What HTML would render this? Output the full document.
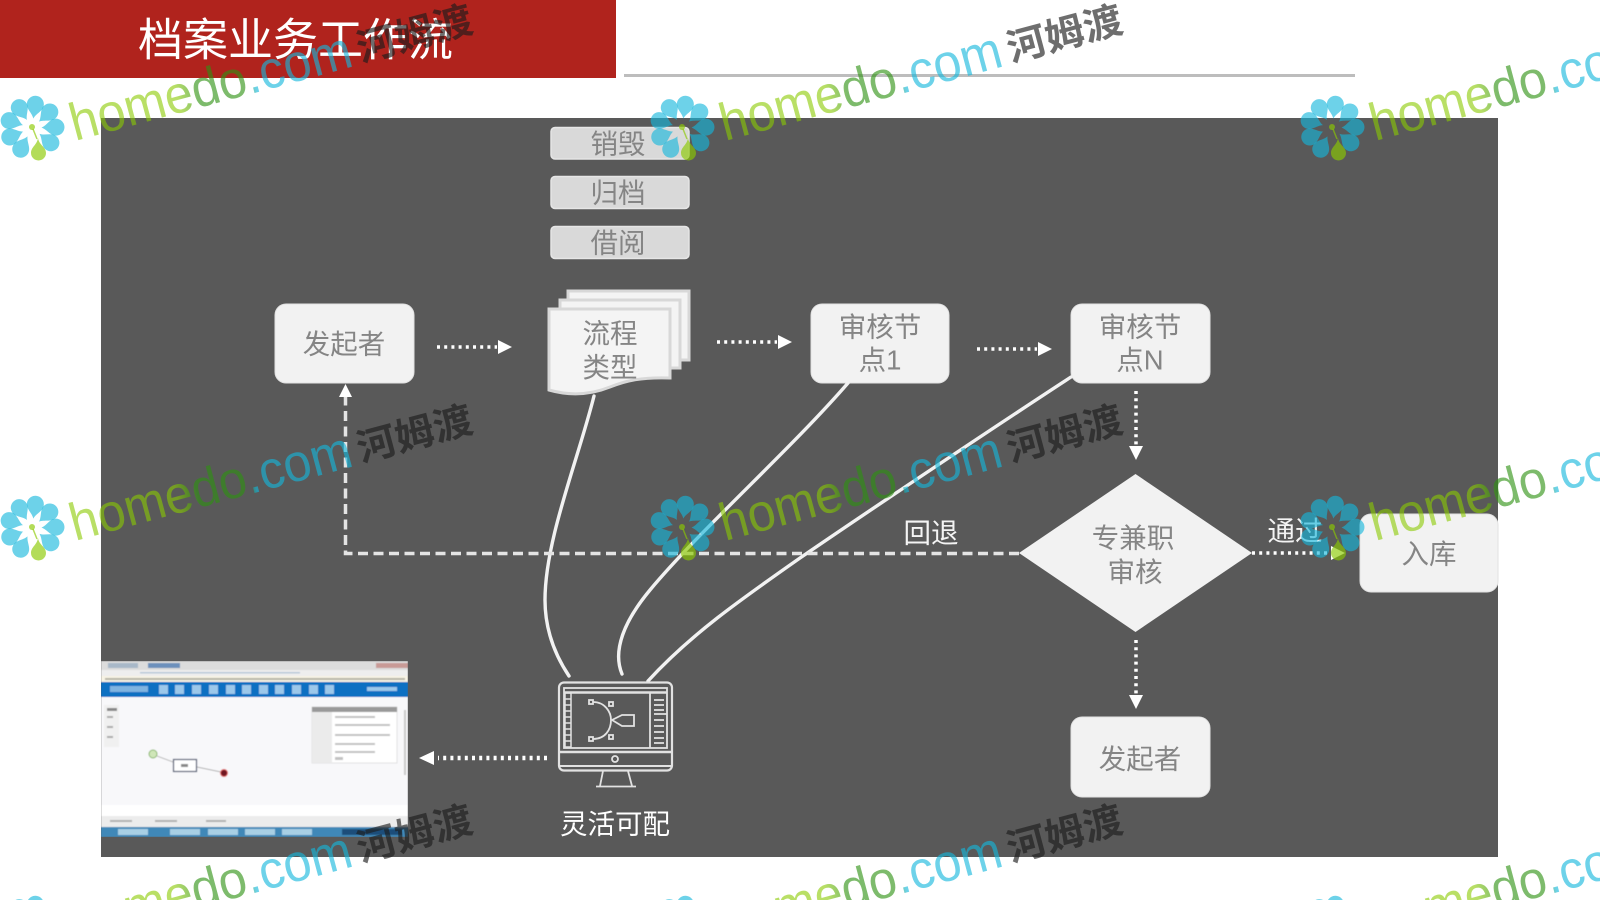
<!DOCTYPE html>
<html lang="zh">
<head>
<meta charset="utf-8">
<title>档案业务工作流</title>
<style>
html,body{margin:0;padding:0;background:#fff;width:1600px;height:900px;overflow:hidden}
#stage{position:relative;width:1600px;height:900px;overflow:hidden}
svg{display:block}
text{font-family:"Liberation Sans","Noto Sans CJK SC",sans-serif}
.n{font-size:27.500px;fill:#858585;text-anchor:middle;dominant-baseline:central}
.w{font-size:27.500px;fill:#f4f4f4;text-anchor:middle;dominant-baseline:central}
.box{fill:#f2f2f2;stroke:#e2e2e2;stroke-width:1}
.st{fill:#d9d9d9;stroke:#e6e6e6;stroke-width:1.5}
.pg{fill:#f4f4f4;stroke:#d8d8d8;stroke-width:3}
.dot{fill:none;stroke:#fff;stroke-width:3.500;stroke-dasharray:3 4.200}
.cv{fill:none;stroke:#f2f2f2;stroke-width:3.400;stroke-linecap:round}
.ic{fill:none;stroke:#e2e2e2;stroke-width:1.800}
.wm{font-size:53px;fill:url(#wg)}
.wc{font-size:38px;font-weight:bold;fill:#1c1c1c;fill-opacity:.64}
</style>
</head>
<body>
<div id="stage">
<svg width="1600" height="900" viewBox="0 0 1600 900" xmlns="http://www.w3.org/2000/svg">
<defs>
<linearGradient id="wg" x1="0" y1="0" x2="1" y2="0">
<stop offset="0" stop-color="#8aca00" stop-opacity=".6"/>
<stop offset=".38" stop-color="#8aca00" stop-opacity=".6"/>
<stop offset=".45" stop-color="#2d9111" stop-opacity=".62"/>
<stop offset=".62" stop-color="#2d9111" stop-opacity=".62"/>
<stop offset=".65" stop-color="#13b7dc" stop-opacity=".62"/>
<stop offset="1" stop-color="#13b7dc" stop-opacity=".62"/>
</linearGradient>
<path id="pt" d="M0 -9.500 C-2 -15 -8.500 -18 -8.500 -24 A8.500 8.500 0 0 1 8.500 -24 C8.500 -18 2 -15 0 -9.500Z"/>
<g id="logo">
<g fill="#13b7dc" fill-opacity=".62">
<use href="#pt" transform="rotate(8)"/>
<use href="#pt" transform="rotate(48)"/>
<use href="#pt" transform="rotate(88)"/>
<use href="#pt" transform="rotate(128)"/>
<use href="#pt" transform="rotate(-32)"/>
<use href="#pt" transform="rotate(-72)"/>
<use href="#pt" transform="rotate(-112)"/>
<use href="#pt" transform="rotate(-152)"/>
</g>
<path d="M6 10 C7 17 14 19 14 25 A7.500 7.500 0 0 1 -1 25 C-1 19 5 17 6 10Z" fill="#8aca00" fill-opacity=".65"/>
<circle cx="0" cy="-1" r="3" fill="#8aca00" fill-opacity=".65"/>
<path d="M1 1 L5 11" stroke="#8aca00" stroke-opacity=".65" stroke-width="1.500" fill="none"/>
</g>
<filter id="bl" x="0" y="0" width="1" height="1"><feGaussianBlur stdDeviation="0.600"/></filter>
<filter id="bm" x="-5%" y="-5%" width="110%" height="110%"><feGaussianBlur stdDeviation="0.350"/></filter>
<pattern id="row3" patternUnits="userSpaceOnUse" x="0" y="0" width="1600" height="100" patternTransform="translate(0,800)">
<use href="#logo" x="32" y="128"/><text class="wm" transform="translate(75,141) rotate(-15)" textLength="290" lengthAdjust="spacingAndGlyphs">homedo.com</text><text class="wc" transform="translate(361,62) rotate(-15)" textLength="118" lengthAdjust="spacingAndGlyphs">河姆渡</text>
<use href="#logo" x="682" y="128"/><text class="wm" transform="translate(725,141) rotate(-15)" textLength="290" lengthAdjust="spacingAndGlyphs">homedo.com</text><text class="wc" transform="translate(1011,62) rotate(-15)" textLength="118" lengthAdjust="spacingAndGlyphs">河姆渡</text>
<use href="#logo" x="1332" y="128"/><text class="wm" transform="translate(1375,141) rotate(-15)" textLength="290" lengthAdjust="spacingAndGlyphs">homedo.com</text>
</pattern>
</defs>

<rect x="0" y="0" width="616" height="78" fill="#b0231d"/>
<text x="138" y="40" font-size="45" fill="#fff" dominant-baseline="central">档案业务工作流</text>
<rect x="624" y="74" width="731" height="3" fill="#bdbdbd"/>

<rect x="101" y="118" width="1397" height="739" fill="#595959"/>

<!-- stacked actions -->
<rect class="st" x="551" y="127.500" width="138" height="31.500" rx="4"/>
<rect class="st" x="551" y="176.500" width="138" height="32" rx="4"/>
<rect class="st" x="551" y="226.500" width="138" height="32" rx="4"/>
<text class="n" x="618" y="144">销毁</text>
<text class="n" x="618" y="193">归档</text>
<text class="n" x="618" y="243">借阅</text>

<!-- boxes -->
<rect class="box" x="275" y="304" width="139" height="79" rx="11"/>
<text class="n" x="344" y="344">发起者</text>
<rect class="box" x="811" y="304" width="138" height="79" rx="11"/>
<text class="n" x="880" y="327">审核节</text>
<text class="n" x="880" y="360">点1</text>
<rect class="box" x="1071" y="304" width="139" height="79" rx="11"/>
<text class="n" x="1140" y="327">审核节</text>
<text class="n" x="1140" y="360">点N</text>
<rect class="box" x="1360" y="514" width="138" height="78" rx="11"/>
<text class="n" x="1429" y="554">入库</text>
<rect class="box" x="1071" y="717" width="139" height="80" rx="11"/>
<text class="n" x="1140" y="759">发起者</text>

<!-- document stack -->
<rect class="pg" x="568" y="291" width="121" height="69"/>
<rect class="pg" x="560" y="300" width="120" height="68"/>
<path class="pg" d="M549 309 H670 V378 C640 377 625 381 610 387 C590 395 570 396 549 390 Z"/>
<text class="n" x="610" y="333.500">流程</text>
<text class="n" x="610" y="367.500">类型</text>

<!-- diamond -->
<polygon points="1135.500,474 1252,553 1135.500,632 1019,553" fill="#f2f2f2"/>
<text class="n" x="1133" y="538">专兼职</text>
<text class="n" x="1135" y="572">审核</text>

<!-- curved connectors -->
<path class="cv" d="M594 396 C578 460 545 540 545 600 C545 630 555 655 569 676"/>
<path class="cv" d="M848 383 C790 450 700 530 650 590 C625 620 612 650 622 674"/>
<path class="cv" d="M1071 377 C990 430 870 510 800 558 C740 600 690 635 648 681"/>

<!-- dotted arrows -->
<path class="dot" d="M437 347 H497"/><polygon points="498,340 512,347 498,354" fill="#fff"/>
<path class="dot" d="M717 342 H777"/><polygon points="778,335 792,342 778,349" fill="#fff"/>
<path class="dot" d="M977 349 H1037"/><polygon points="1038,342 1052,349 1038,356" fill="#fff"/>
<path class="dot" d="M1136 391 V446"/><polygon points="1129,446 1143,446 1136,460" fill="#fff"/>
<path class="dot" d="M1136 640 V695"/><polygon points="1129,695 1143,695 1136,709" fill="#fff"/>
<path class="dot" d="M1252 553 H1330"/><polygon points="1331,546 1345,553 1331,560" fill="#fff"/>
<path class="dot" style="stroke-width:4.500" d="M547 758 H438"/><polygon points="434,751 419,758 434,765" fill="#fff"/>

<!-- dashed return -->
<path d="M1019 553.500 H345.500 V397" fill="none" stroke="#e4e4e4" stroke-width="3.500" stroke-dasharray="10 5.500"/>
<polygon points="345.500,384 339,397 352,397" fill="#fff"/>
<text class="w" x="931" y="533">回退</text>
<text class="w" x="1295" y="531">通过</text>

<!-- screenshot -->
<g filter="url(#bl)">
<rect x="101" y="661" width="307" height="176" fill="#f8f8fa"/>
<rect x="101" y="661" width="307" height="9" fill="#dcdcdc"/>
<rect x="108" y="663" width="30" height="5" fill="#a8b8c8"/>
<rect x="148" y="663" width="32" height="5" fill="#6c90bc"/>
<rect x="376" y="663" width="32" height="5" fill="#c89a96"/>
<rect x="101" y="670" width="307" height="6" fill="#eeeeee"/>
<rect x="140" y="672" width="160" height="1.500" fill="#b8c8d8"/>
<rect x="101" y="676" width="307" height="6" fill="#f7f3e4"/>
<rect x="105" y="678" width="300" height="2" fill="#9a9a8e" opacity=".7"/>
<rect x="101" y="682" width="307" height="15" fill="#0b6fc2"/>
<rect x="110" y="686" width="38" height="6" fill="#7fb4e0"/>
<g fill="#9cc8ea">
<rect x="159" y="685" width="9" height="9"/><rect x="175" y="685" width="9" height="9"/><rect x="192" y="685" width="9" height="9"/><rect x="209" y="685" width="9" height="9"/><rect x="226" y="685" width="9" height="9"/><rect x="242" y="685" width="9" height="9"/><rect x="259" y="685" width="9" height="9"/><rect x="275" y="685" width="9" height="9"/><rect x="292" y="685" width="9" height="9"/><rect x="309" y="685" width="9" height="9"/><rect x="325" y="685" width="9" height="9"/>
<rect x="367" y="687" width="30" height="4"/>
</g>
<rect x="104" y="705" width="15" height="42" fill="#f0f0f0"/>
<rect x="107" y="708" width="10" height="3" fill="#888"/>
<rect x="107" y="716" width="6" height="2" fill="#aaa"/><rect x="107" y="726" width="6" height="2" fill="#aaa"/><rect x="107" y="736" width="6" height="2" fill="#aaa"/>
<rect x="312" y="707" width="85" height="56" fill="#fff" stroke="#d0d0d0" stroke-width=".6"/>
<rect x="312" y="707" width="85" height="5" fill="#999"/>
<rect x="312" y="712" width="20" height="51" fill="#ebebeb"/>
<g fill="#c2c2c2"><rect x="335" y="716" width="40" height="2"/><rect x="335" y="724" width="55" height="2"/><rect x="335" y="734" width="55" height="2"/><rect x="335" y="743" width="40" height="2"/><rect x="335" y="751" width="40" height="2"/><rect x="335" y="757" width="8" height="3"/></g>
<rect x="404" y="710" width="2" height="65" fill="#c8c8c8"/>
<circle cx="153" cy="754" r="4" fill="#cfe6b8" stroke="#8cb870" stroke-width="1"/>
<line x1="157" y1="756" x2="173" y2="762" stroke="#aaa" stroke-width=".8"/>
<rect x="173.500" y="759.500" width="23" height="12" fill="#fff" stroke="#44506a" stroke-width="1.200"/>
<rect x="181" y="764" width="7" height="3" fill="#888"/>
<line x1="197" y1="767" x2="221" y2="772" stroke="#999" stroke-width=".8"/>
<circle cx="224" cy="773" r="3.500" fill="#701820" stroke="#e06060" stroke-width="1"/>
<rect x="101" y="805" width="307" height="11" fill="#ffffff"/>
<rect x="101" y="816" width="307" height="11" fill="#ececec"/>
<g fill="#b0b0b0"><rect x="110" y="820" width="22" height="2"/><rect x="155" y="820" width="22" height="2"/><rect x="206" y="820" width="20" height="2"/></g>
<rect x="101" y="827" width="307" height="10" fill="#3f88b8"/>
<g fill="#a8cfe4"><rect x="118" y="829" width="30" height="6"/><rect x="170" y="829" width="30" height="6"/><rect x="208" y="829" width="30" height="6"/><rect x="245" y="829" width="30" height="6"/><rect x="282" y="829" width="30" height="6"/></g>
<rect x="342" y="829" width="60" height="6" fill="#1d4e7a"/>
</g>

<!-- monitor icon -->
<g class="ic" filter="url(#bm)">
<rect x="559" y="682.500" width="113" height="88" rx="5" stroke-width="2.200"/>
<rect x="564" y="688" width="103" height="60"/>
<line x1="564" y1="692.500" x2="667" y2="692.500" stroke-width="2.500"/>
<rect x="565" y="693" width="6" height="54" stroke-width="1.500"/>
<path d="M565 699H571M565 705H571M565 711H571M565 717H571M565 723H571M565 729H571M565 735H571M565 741H571" stroke-width="1.500"/>
<line x1="650" y1="692" x2="650" y2="748"/>
<path d="M654 700H664M654 705H664M654 710H664"/>
<path d="M654 714H667M654 720H664M654 726H664M654 732H664M654 738H664M654 743H664"/>
<line x1="559" y1="752" x2="672" y2="752" stroke-width="2.400"/>
<line x1="559" y1="766" x2="672" y2="766" stroke-width="2"/>
<circle cx="615" cy="759" r="3"/>
<path d="M593 702 C605 702 611 712 611 720 C611 730 605 739 593 739"/>
<rect x="589" y="700" width="4" height="4"/>
<rect x="589" y="737" width="4" height="4"/>
<rect x="609" y="702" width="4" height="4"/>
<rect x="609" y="735" width="4" height="4"/>
<path d="M612 720 L622 715 H634 V726 H622 Z"/>
<path d="M603 771 L600 786 M628 771 L632 786 M596 786.500 H636"/>
</g>
<text x="615" y="824" font-size="27.500" fill="#fff" text-anchor="middle" dominant-baseline="central">灵活可配</text>

<!-- watermark tiles -->
<g><use href="#logo" x="32" y="128"/><text class="wm" transform="translate(75,141) rotate(-15)" textLength="290" lengthAdjust="spacingAndGlyphs">homedo.com</text><text class="wc" transform="translate(361,62) rotate(-15)" textLength="118" lengthAdjust="spacingAndGlyphs">河姆渡</text></g>
<g><use href="#logo" x="682" y="128"/><text class="wm" transform="translate(725,141) rotate(-15)" textLength="290" lengthAdjust="spacingAndGlyphs">homedo.com</text><text class="wc" transform="translate(1011,62) rotate(-15)" textLength="118" lengthAdjust="spacingAndGlyphs">河姆渡</text></g>
<g><use href="#logo" x="1332" y="128"/><text class="wm" transform="translate(1375,141) rotate(-15)" textLength="290" lengthAdjust="spacingAndGlyphs">homedo.com</text></g>
<g><use href="#logo" x="32" y="528"/><text class="wm" transform="translate(75,541) rotate(-15)" textLength="290" lengthAdjust="spacingAndGlyphs">homedo.com</text><text class="wc" transform="translate(361,462) rotate(-15)" textLength="118" lengthAdjust="spacingAndGlyphs">河姆渡</text></g>
<g><use href="#logo" x="682" y="528"/><text class="wm" transform="translate(725,541) rotate(-15)" textLength="290" lengthAdjust="spacingAndGlyphs">homedo.com</text><text class="wc" transform="translate(1011,462) rotate(-15)" textLength="118" lengthAdjust="spacingAndGlyphs">河姆渡</text></g>
<g><use href="#logo" x="1332" y="528"/><text class="wm" transform="translate(1375,541) rotate(-15)" textLength="290" lengthAdjust="spacingAndGlyphs">homedo.com</text></g>
<rect x="0" y="800" width="1600" height="100" fill="url(#row3)"/>
</svg>
</div>
</body>
</html>
